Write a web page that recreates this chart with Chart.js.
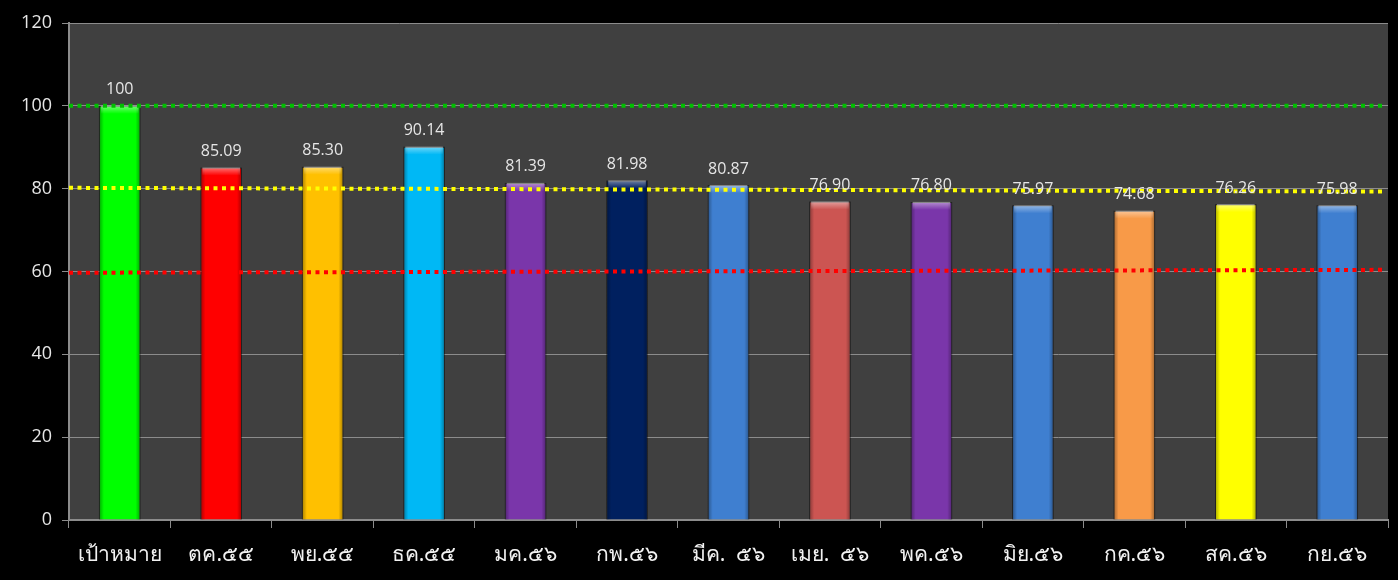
<!DOCTYPE html>
<html>
<head>
<meta charset="utf-8">
<script src="https://cdn.jsdelivr.net/npm/chart.js@4"></script>
<style>
  body { margin: 0; background: #000; }
  #wrap { width: 1398px; height: 580px; }
</style>
</head>
<body>
<div id="wrap"><canvas id="kpiChart" width="1398" height="580"></canvas></div>
<script>
// ข้อมูลจากกราฟ
const months = ['เป้าหมาย', 'ตค.๕๕', 'พย.๕๕', 'ธค.๕๕', 'มค.๕๖', 'กพ.๕๖', 'มีค.  ๕๖', 'เมย.  ๕๖', 'พค.๕๖', 'มิย.๕๖', 'กค.๕๖', 'สค.๕๖', 'กย.๕๖'];
const scores = [100, 85.09, 85.30, 90.14, 81.39, 81.98, 80.87, 76.90, 76.80, 75.97, 74.68, 76.26, 75.98];
const barColors = ['#00ff00', '#ff0000', '#ffc000', '#00b8f5', '#7a36aa', '#00205f', '#3f7fd0', '#cc5552', '#7a36aa', '#3f7fd0', '#f89a48', '#ffff00', '#3f7fd0'];
const yTicks = [0, 20, 40, 60, 80, 100, 120];
// เส้นเกณฑ์ (ประ) ค่าซ้าย / ค่าขวา
const levelStart = [100, 80.2, 59.7];
const levelEnd = [100, 79.3, 60.4];
const levelColors = ['#00c000', '#ffff00', '#ff0000'];

const plotBg = {
  id: 'plotBg',
  beforeDraw(chart) {
    const { ctx, chartArea: a } = chart;
    ctx.save();
    ctx.fillStyle = '#000';
    ctx.fillRect(0, 0, chart.width, chart.height);
    ctx.fillStyle = '#404040';
    ctx.fillRect(a.left, a.top, a.right - a.left, a.bottom - a.top);
    ctx.restore();
  }
};

// เงา/ขอบนูนของแท่ง + ป้ายค่า + เส้นประ
const extras = {
  id: 'extras',
  afterDatasetsDraw(chart) {
    const { ctx, chartArea: a } = chart;
    const y = chart.scales.y;
    const meta = chart.getDatasetMeta(0);
    ctx.save();
    meta.data.forEach((bar, i) => {
      const left = bar.x - bar.width / 2;
      const w = bar.width;
      const h = bar.base - bar.y;
      // ขอบข้างเข้ม
      let g = ctx.createLinearGradient(left, 0, left + w, 0);
      g.addColorStop(0, 'rgba(0,0,0,0.35)');
      g.addColorStop(0.12, 'rgba(0,0,0,0)');
      g.addColorStop(0.88, 'rgba(0,0,0,0)');
      g.addColorStop(1, 'rgba(0,0,0,0.35)');
      ctx.fillStyle = g;
      ctx.fillRect(left, bar.y, w, h);
      // ขอบบนสว่าง
      g = ctx.createLinearGradient(0, bar.y, 0, bar.y + 8);
      g.addColorStop(0, 'rgba(255,255,255,0.45)');
      g.addColorStop(1, 'rgba(255,255,255,0)');
      ctx.fillStyle = g;
      ctx.fillRect(left + 2, bar.y, w - 4, 8);
    });
    // เส้นประ
    ctx.lineWidth = 4;
    ctx.setLineDash([4, 4.5]);
    levelStart.forEach((v, i) => {
      ctx.strokeStyle = levelColors[i];
      ctx.beginPath();
      ctx.moveTo(a.left, y.getPixelForValue(v));
      ctx.lineTo(a.right - 3, y.getPixelForValue(levelEnd[i]));
      ctx.stroke();
    });
    ctx.setLineDash([]);
    // ป้ายค่า
    ctx.fillStyle = '#e6e6e6';
    ctx.font = '16px "Open Sans", "DejaVu Sans", sans-serif';
    ctx.textAlign = 'center';
    ctx.textBaseline = 'bottom';
    meta.data.forEach((bar, i) => {
      const v = scores[i];
      const txt = Number.isInteger(v) ? String(v) : v.toFixed(2);
      ctx.fillText(txt, bar.x, bar.y - 8);
    });
    ctx.restore();
  }
};

new Chart(document.getElementById('kpiChart'), {
  type: 'bar',
  data: {
    labels: months,
    datasets: [{
      data: scores,
      backgroundColor: barColors,
      borderColor: 'rgba(0,0,0,0.25)',
      borderWidth: 1,
      barPercentage: 0.41,
      categoryPercentage: 1
    }]
  },
  options: {
    responsive: false,
    animation: false,
    layout: { padding: { top: 23, right: 10, left: 0, bottom: 0 } },
    plugins: { legend: { display: false }, tooltip: { enabled: false } },
    scales: {
      x: {
        offset: true,
        grid: { offset: true, drawOnChartArea: false, drawTicks: true, tickLength: 8, color: '#8c8c8c', lineWidth: 1 },
        border: { color: '#8c8c8c', width: 2 },
        ticks: { color: '#f2f2f2', font: { size: 21, family: '"Noto Sans", "Open Sans", sans-serif' }, padding: 14, maxRotation: 0, autoSkip: false },
        afterFit(s) { s.height = 60; }
      },
      y: {
        min: 0,
        max: 120,
        afterBuildTicks(s) { s.ticks = yTicks.map(v => ({ value: v })); },
        grid: { color: '#8c8c8c', lineWidth: 1, tickLength: 7 },
        border: { color: '#8c8c8c', width: 2 },
        ticks: { color: '#e6e6e6', font: { size: 18, family: '"Open Sans", "DejaVu Sans", sans-serif' }, padding: 10 },
        afterFit(s) { s.width = 69; }
      }
    }
  },
  plugins: [plotBg, extras]
});
</script>
</body>
</html>
